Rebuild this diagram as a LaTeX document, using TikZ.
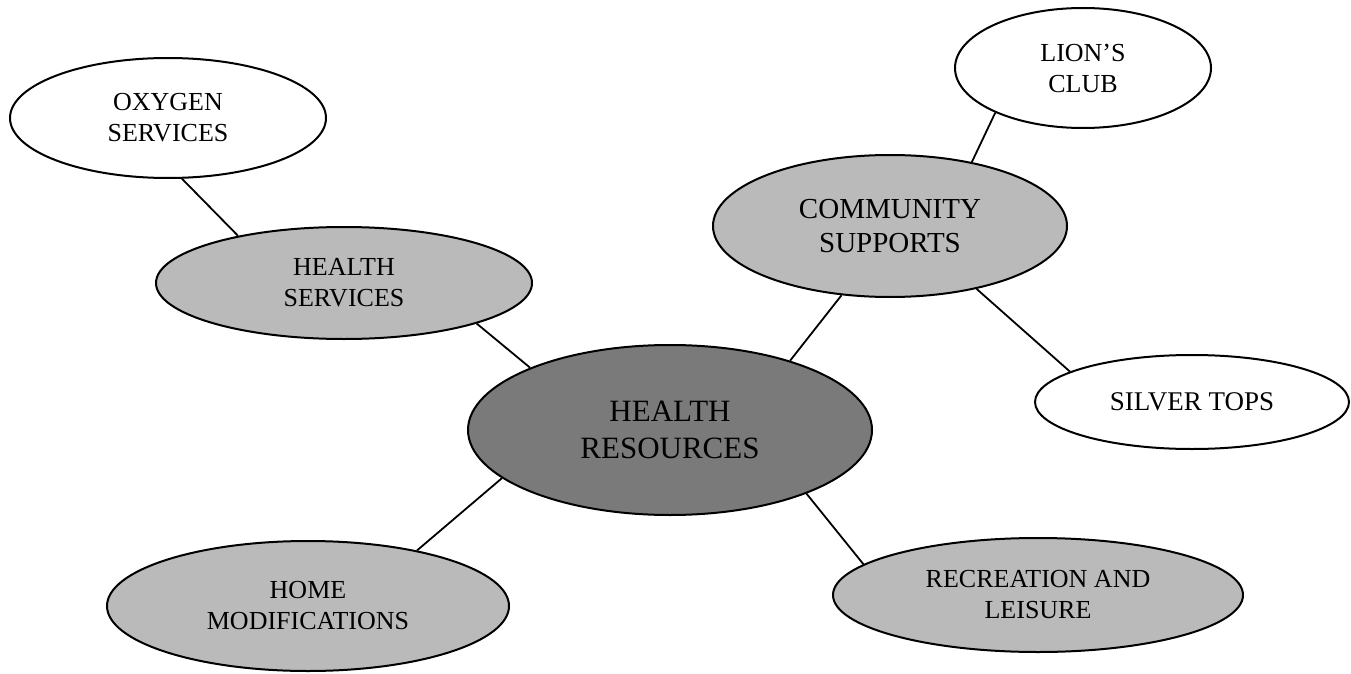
\documentclass[tikz,border=0pt]{standalone}
\usepackage{fontspec}
\setmainfont{Liberation Serif}
\usetikzlibrary{shapes.geometric}
\begin{document}
\begin{tikzpicture}[x=1pt,y=-1pt,
  bubble/.style={ellipse, draw=black, line width=2pt, inner sep=0pt, align=center,
                 font=\fontsize{26}{31}\selectfont},
  plain/.style={bubble, fill=white},
  shaded/.style={bubble, fill=black!27},
  core/.style={bubble, fill=black!52, font=\fontsize{31}{37}\selectfont},
  link/.style={line width=1.8pt}]
\useasboundingbox (0,0) rectangle (1351,674);

% hub
\node[core, minimum width=404, minimum height=170] (hr) at (670,430) {HEALTH\\RESOURCES};

% first ring
\node[shaded, minimum width=376, minimum height=112] (hs) at (344,283) {HEALTH\\SERVICES};
\node[shaded, minimum width=354, minimum height=142, font=\fontsize{29}{34}\selectfont] (cs) at (890,226) {COMMUNITY\\SUPPORTS};
\node[shaded, minimum width=402, minimum height=130] (hm) at (308,606) {HOME\\MODIFICATIONS};
\node[shaded, minimum width=410, minimum height=114] (rl) at (1038,595) {RECREATION AND\\LEISURE};

% outer ring
\node[plain, minimum width=316, minimum height=120] (ox) at (168,118) {OXYGEN\\SERVICES};
\node[plain, minimum width=256, minimum height=120] (lc) at (1083,68) {LION’S\\CLUB};
\node[plain, minimum width=314, minimum height=94, font=\fontsize{27}{31}\selectfont] (st) at (1192,402) {SILVER TOPS};

% connectors
\draw[link] (ox.-77) -- (hs.156);
\draw[link] (hs.-17) -- (hr.156);
\draw[link] (hr.30) -- (cs.-125);
\draw[link] (cs.38) -- (lc.-153);
\draw[link] (cs.-36) -- (st.166);
\draw[link] (hr.-164) -- (hm.27);
\draw[link] (hr.-25) -- (rl.170);
\end{tikzpicture}
\end{document}
